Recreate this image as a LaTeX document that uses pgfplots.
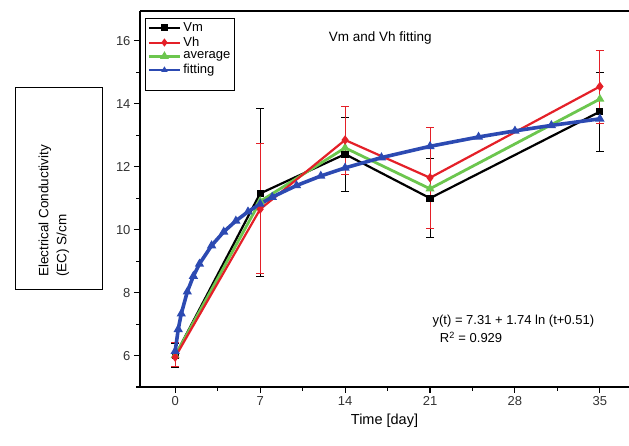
\documentclass[border=0pt]{standalone}
\usepackage{pgfplots}
\pgfplotsset{compat=1.18}
\usepackage{fontspec}
\setmainfont{Liberation Sans}

\definecolor{vmred}{RGB}{228,32,40}
\definecolor{avggreen}{RGB}{108,198,78}
\definecolor{fitblue}{RGB}{44,74,178}

\begin{document}
\begin{tikzpicture}[x=1pt,y=1pt]
\path[use as bounding box] (0,0) rectangle (629,446);

% boxed y label
\draw[line width=1pt] (15,156) rectangle (102,358);
\node[rotate=90, anchor=west, align=left, font=\fontsize{13.5}{18}\selectfont, inner sep=0pt]
    at (54,169) {Electrical Conductivity\\(EC) S/cm};

\begin{axis}[
    at={(140pt,59pt)}, anchor=south west,
    scale only axis,
    width=489pt, height=376pt,
    xmin=-2.9, xmax=37.4,
    ymin=5, ymax=16.95,
    axis x line=box, axis y line=left,
    axis line style={-, line width=1.1pt},
    xtick={0,7,...,35},
    minor xtick={3.5,10.5,...,31.5},
    ytick={6,8,...,16},
    minor ytick={5,7,...,15},
    xtick pos=bottom,
    tick align=outside,
    major tick length=6pt, minor tick length=4pt,
    every tick/.style={black, line width=1.1pt},
    /pgf/number format/assume math mode=true,
    tick label style={font=\fontsize{13}{15}\selectfont, text=black!80},
    xlabel={Time [day]},
    xlabel style={font=\fontsize{14.5}{16}\selectfont, yshift=-1pt},
    legend style={at={(0.0102,0.981)}, anchor=north west, draw=black, line width=1pt,
        font=\fontsize{13}{15}\selectfont, row sep=0pt, inner sep=2pt},
    legend cell align=left,
    legend image code/.code={\draw[mark repeat=2,mark phase=2,#1]
        plot coordinates {(0cm,0cm) (0.55cm,0cm) (1.1cm,0cm)};},
    clip=false,
]
\addlegendimage{black, line width=2pt, mark=square*, mark size=2.5pt}
\addlegendentry{Vm}
\addlegendimage{vmred, line width=2pt, mark=diamond*, mark size=2.5pt}
\addlegendentry{Vh}
\addlegendimage{avggreen, line width=2.6pt, mark=triangle*, mark size=2.5pt}
\addlegendentry{average}
\addlegendimage{fitblue, line width=1.2pt, mark=triangle*, mark size=2.5pt}
\addlegendentry{fitting}
\addlegendimage{empty legend}\addlegendentry{}
\addlegendimage{empty legend}\addlegendentry{}

% Vm
\addplot[forget plot, black, line width=2.2pt, mark=square*, mark size=2.5pt,
    error bars/.cd, y dir=both, y explicit,
    error bar style={black, line width=1pt}, error mark options={rotate=90, mark size=4pt, line width=1pt}]
    table[x=x, y=y, y error plus=ep, y error minus=em] {
x  y     ep    em
0  6.00  0.38  0.38
7  11.15 2.70  2.65
14 12.40 1.15  1.20
21 11.00 1.25  1.25
35 13.75 1.23  1.25
};

% average
\addplot[forget plot, avggreen, line width=2.8pt, mark=triangle*, mark size=2.5pt]
    coordinates {(0,6.00) (7,10.90) (14,12.60) (21,11.30) (35,14.15)};

% Vh
\addplot[forget plot, vmred, line width=2.2pt, mark=diamond*, mark size=3pt,
    error bars/.cd, y dir=both, y explicit,
    error bar style={vmred, line width=1pt}, error mark options={rotate=90, mark size=4pt, line width=1pt}]
    table[x=x, y=y, y error plus=ep, y error minus=em] {
x  y     ep    em
0  5.95  0.45  0.30
7  10.65 2.10  2.05
14 12.85 1.05  1.10
21 11.65 1.60  1.60
35 14.55 1.15  1.18
};

% fitting
\addplot[forget plot, fitblue, line width=3.6pt, mark=triangle*, mark size=1.8pt]
    coordinates {
(0,6.138) (0.25,6.833) (0.5,7.327) (1,8.027) (1.5,8.525) (2,8.911)
(3,9.495) (4,9.931) (5,10.279) (6,10.570) (7,10.818) (8,11.036)
(10,11.403) (12,11.706) (14,11.964) (17,12.291) (21,12.649)
(25,12.946) (28,13.139) (31,13.314) (35,13.522)
};

\node[font=\fontsize{13.5}{15}\selectfont] at (axis cs:16.9,16.1) {Vm and Vh fitting};
\node[anchor=west, font=\fontsize{13}{15}\selectfont, inner sep=0pt] at (axis cs:21.2,7.08)
    {y(t) = 7.31 + 1.74 ln (t+0.51)};
\node[anchor=west, font=\fontsize{13}{15}\selectfont, inner sep=0pt] at (axis cs:21.8,6.57)
    {R\textsuperscript{2} = 0.929};
\end{axis}
\end{tikzpicture}
\end{document}
